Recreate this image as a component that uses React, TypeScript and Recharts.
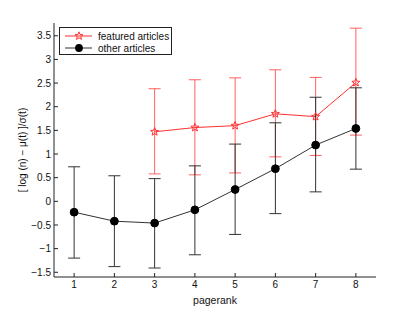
import React from 'react';
import { ComposedChart, Line, XAxis, YAxis, ErrorBar, Legend } from 'recharts';

const pagerank = [1, 2, 3, 4, 5, 6, 7, 8];
const otherMean = [-0.23, -0.42, -0.46, -0.18, 0.25, 0.69, 1.19, 1.54];
const otherLow = [-1.2, -1.38, -1.41, -1.13, -0.7, -0.26, 0.2, 0.68];
const otherHigh = [0.73, 0.54, 0.48, 0.75, 1.21, 1.66, 2.2, 2.4];

const featuredRank = [3, 4, 5, 6, 7, 8];
const featuredMean = [1.47, 1.56, 1.6, 1.85, 1.79, 2.51];
const featuredLow = [0.58, 0.56, 0.6, 0.94, 0.97, 1.4];
const featuredHigh = [2.38, 2.57, 2.61, 2.78, 2.62, 3.66];

const xTicks = [1, 2, 3, 4, 5, 6, 7, 8];
const yTicks = [-1.5, -1, -0.5, 0, 0.5, 1, 1.5, 2, 2.5, 3, 3.5];

const seriesNames = ['featured articles', 'other articles'];

const otherData = pagerank.map((x, i) => ({
  x,
  y: otherMean[i],
  err: [otherMean[i] - otherLow[i], otherHigh[i] - otherMean[i]],
}));
const featuredData = featuredRank.map((x, i) => ({
  x,
  y: featuredMean[i],
  err: [featuredMean[i] - featuredLow[i], featuredHigh[i] - featuredMean[i]],
}));

const RED = '#ff3030';
const RED_ERR = '#ff6060';
const BLACK = '#333333';
const FONT = '"Liberation Sans", Arial, sans-serif';

function starPath(cx: number, cy: number, R: number, r: number) {
  let d = '';
  for (let i = 0; i < 10; i++) {
    const rad = i % 2 === 0 ? R : r;
    const a = -Math.PI / 2 + (i * Math.PI) / 5;
    const px = cx + rad * Math.cos(a);
    const py = cy + rad * Math.sin(a);
    d += (i === 0 ? 'M' : 'L') + px.toFixed(2) + ',' + py.toFixed(2);
  }
  return d + 'Z';
}

const StarDot = (props: any) => {
  const { cx, cy, index } = props;
  if (cx == null || cy == null) return <g key={index} />;
  return <path key={index} d={starPath(cx, cy, 4.2, 1.8)} fill="none" stroke={RED} strokeWidth={1} />;
};

const CircleDot = (props: any) => {
  const { cx, cy, index } = props;
  if (cx == null || cy == null) return <g key={index} />;
  return <circle key={index} cx={cx} cy={cy} r={3.9} fill="#000" stroke="#000" />;
};

const EmptyTick = () => <g />;

const fmt = (v: number) => String(v).replace('-', '\u2212');

const LegendBox = () => (
  <svg width={114} height={29} style={{ display: 'block' }}>
    <rect x={0.5} y={0.5} width={112} height={27} fill="#fff" stroke="#222" strokeWidth={1} />
    <line x1={6} y1={9} x2={33} y2={9} stroke={RED} strokeWidth={1} />
    <path d={starPath(20, 9, 4.2, 1.8)} fill="none" stroke={RED} strokeWidth={1} />
    <text x={39} y={12.5} fontSize={10} fontFamily={FONT} fill="#111">{seriesNames[0]}</text>
    <line x1={6} y1={21} x2={33} y2={21} stroke={BLACK} strokeWidth={1} />
    <circle cx={20} cy={21} r={3.9} fill="#000" />
    <text x={39} y={24.5} fontSize={10} fontFamily={FONT} fill="#111">{seriesNames[1]}</text>
  </svg>
);

const YLabel = () => (
  <text
    x={22}
    y={150}
    transform="rotate(-90, 22, 150)"
    textAnchor="middle"
    dominantBaseline="central"
    fontSize={10}
    fontFamily={FONT}
    fill="#111"
  >
    [ log (n) − μ(t) ]/σ(t)
  </text>
);

export default function App() {
  const tickStyle = { fontSize: 10, fontFamily: FONT, fill: '#111' };
  return (
    <div style={{ position: 'absolute', left: 0, top: 0, background: '#fff' }}>
      <ComposedChart width={415} height={312} margin={{ top: 23, right: 39, bottom: 0, left: 0 }}>
        <XAxis
          xAxisId="b"
          dataKey="x"
          type="number"
          domain={[0.5, 8.5]}
          ticks={xTicks}
          allowDataOverflow
          height={35}
          tick={tickStyle}
          tickSize={-4}
          tickMargin={8}
          axisLine={{ stroke: '#222' }}
          tickLine={{ stroke: '#222' }}
          label={{ value: 'pagerank', position: 'insideBottom', offset: 8, fontSize: 10.5, fontFamily: FONT, fill: '#111' }}
        />
        <XAxis
          xAxisId="t"
          orientation="top"
          dataKey="x"
          type="number"
          domain={[0.5, 8.5]}
          ticks={xTicks}
          allowDataOverflow
          height={0}
          tick={<EmptyTick />}
          tickSize={-4}
          axisLine={{ stroke: '#777' }}
          tickLine={{ stroke: '#666' }}
        />
        <YAxis
          yAxisId="l"
          type="number"
          domain={[-1.6, 3.77]}
          ticks={yTicks}
          allowDataOverflow
          width={54}
          tick={tickStyle}
          tickFormatter={fmt}
          tickSize={-4}
          tickMargin={7}
          axisLine={{ stroke: '#222' }}
          tickLine={{ stroke: '#222' }}
          label={<YLabel />}
        />
        <YAxis
          yAxisId="r"
          orientation="right"
          type="number"
          domain={[-1.6, 3.77]}
          ticks={yTicks}
          allowDataOverflow
          width={0}
          tick={<EmptyTick />}
          tickSize={-4}
          axisLine={{ stroke: '#222' }}
          tickLine={{ stroke: '#222' }}
        />
        <Line
          xAxisId="b"
          yAxisId="l"
          data={featuredData}
          dataKey="y"
          name={seriesNames[0]}
          stroke={RED}
          strokeWidth={1}
          dot={StarDot}
          isAnimationActive={false}
        >
          <ErrorBar dataKey="err" width={6} stroke={RED_ERR} strokeWidth={1} direction="y" />
        </Line>
        <Line
          xAxisId="b"
          yAxisId="l"
          data={otherData}
          dataKey="y"
          name={seriesNames[1]}
          stroke={BLACK}
          strokeWidth={1}
          dot={CircleDot}
          isAnimationActive={false}
        >
          <ErrorBar dataKey="err" width={6} stroke={BLACK} strokeWidth={1} direction="y" />
        </Line>
        <Legend
          layout="vertical"
          align="center"
          verticalAlign="middle"
          content={() => <LegendBox />}
          wrapperStyle={{ top: 27, left: 59, width: 114, height: 29 }}
        />
      </ComposedChart>
    </div>
  );
}
